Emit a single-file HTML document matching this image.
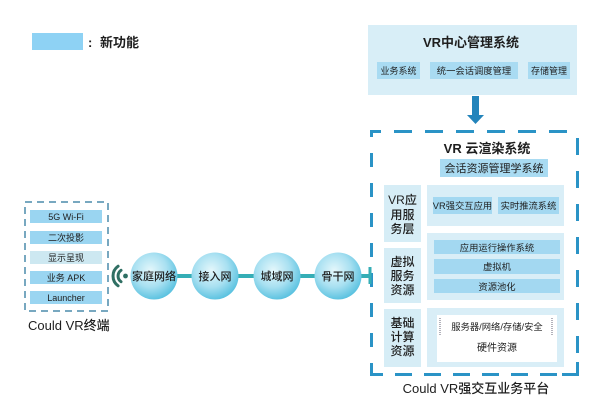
<!DOCTYPE html>
<html>
<head>
<meta charset="utf-8">
<style>
  html,body{margin:0;padding:0;background:#fff;}
  svg{display:block;}
  text{font-family:"Liberation Sans","Noto Sans CJK SC",sans-serif;fill:#1e1e1e;}
  .m{font-weight:500;}
</style>
</head>
<body>
<svg width="600" height="414" viewBox="0 0 600 414" xmlns="http://www.w3.org/2000/svg">
  <defs>
    <radialGradient id="cg" cx="42%" cy="38%" r="65%">
      <stop offset="0" stop-color="#e4f7fb"/>
      <stop offset="0.55" stop-color="#a8e0f1"/>
      <stop offset="1" stop-color="#56c0df"/>
    </radialGradient>
  </defs>
  <rect width="600" height="414" fill="#fff"/>

  <!-- legend -->
  <rect x="32" y="33" width="51" height="17" fill="#8ed2f4"/>
  <text x="88" y="47" font-size="13" font-weight="bold">:</text>
  <text x="100" y="47" font-size="13" font-weight="bold">新功能</text>

  <!-- top panel -->
  <rect x="368" y="25" width="209" height="70" fill="#d8eef7"/>
  <text x="471" y="47" font-size="13" font-weight="bold" text-anchor="middle">VR中心管理系统</text>
  <rect x="377" y="62" width="43" height="17" fill="#a9dbf2"/>
  <text x="398.5" y="74" font-size="9" text-anchor="middle">业务系统</text>
  <rect x="430" y="62" width="88" height="17" fill="#a9dbf2"/>
  <text x="474" y="74" font-size="9.3" text-anchor="middle">统一会话调度管理</text>
  <rect x="528" y="62" width="42" height="17" fill="#a9dbf2"/>
  <text x="549" y="74" font-size="9" text-anchor="middle">存储管理</text>

  <!-- arrow -->
  <rect x="472" y="96" width="7" height="20" fill="#2384bb"/>
  <polygon points="467,115 484,115 475.5,124" fill="#2384bb"/>

  <!-- big dashed box -->
  <g stroke="#2a93c6" stroke-width="3" fill="none">
    <line x1="371" y1="131.5" x2="568" y2="131.5" stroke-dasharray="18 13" stroke-dashoffset="8"/>
    <line x1="371.5" y1="130" x2="371.5" y2="376" stroke-dasharray="14 16" stroke-dashoffset="7"/>
    <line x1="371" y1="374.5" x2="560" y2="374.5" stroke-dasharray="17 12" stroke-dashoffset="5"/>
    <line x1="577.5" y1="138" x2="577.5" y2="356" stroke-dasharray="17 16"/>
    <polyline points="562,374.5 577.5,374.5 577.5,362"/>
  </g>

  <text x="487" y="153" font-size="13" font-weight="bold" text-anchor="middle">VR 云渲染系统</text>
  <rect x="440" y="159" width="108" height="18" fill="#a9dbf2"/>
  <text x="494" y="172" font-size="11" text-anchor="middle">会话资源管理学系统</text>

  <!-- left column -->
  <rect x="384" y="185" width="37" height="57" fill="#d6edf6"/>
  <rect x="384" y="248" width="37" height="55" fill="#d6edf6"/>
  <rect x="384" y="309" width="37" height="58" fill="#d6edf6"/>
  <g font-size="12" text-anchor="middle" class="m">
    <text x="402.5" y="204">VR应</text>
    <text x="402.5" y="219">用服</text>
    <text x="402.5" y="233">务层</text>
    <text x="402.5" y="266">虚拟</text>
    <text x="402.5" y="280">服务</text>
    <text x="402.5" y="294">资源</text>
    <text x="402.5" y="327">基础</text>
    <text x="402.5" y="341">计算</text>
    <text x="402.5" y="355">资源</text>
  </g>

  <!-- right blocks -->
  <rect x="427" y="185" width="137" height="41" fill="#d9eef7"/>
  <rect x="427" y="233" width="137" height="67" fill="#d9eef7"/>
  <rect x="427" y="308" width="137" height="59" fill="#d9eef7"/>

  <rect x="433" y="197" width="59" height="17" fill="#a3d8f1"/>
  <text x="462.5" y="209" font-size="9.3" text-anchor="middle">VR强交互应用</text>
  <rect x="498" y="197" width="61" height="17" fill="#a3d8f1"/>
  <text x="528.5" y="209" font-size="9.3" text-anchor="middle">实时推流系统</text>

  <rect x="434" y="240" width="126" height="14" fill="#a3d8f1"/>
  <text x="497" y="251" font-size="9.3" text-anchor="middle">应用运行操作系统</text>
  <rect x="434" y="259" width="126" height="15" fill="#a3d8f1"/>
  <text x="497" y="270" font-size="9.3" text-anchor="middle">虚拟机</text>
  <rect x="434" y="279" width="126" height="14" fill="#a3d8f1"/>
  <text x="497" y="290" font-size="9.3" text-anchor="middle">资源池化</text>

  <rect x="437" y="315" width="120" height="47" fill="#fff"/>
  <line x1="440" y1="318" x2="440" y2="335" stroke="#667" stroke-width="1" stroke-dasharray="1 1"/>
  <line x1="552" y1="318" x2="552" y2="335" stroke="#667" stroke-width="1" stroke-dasharray="1 1"/>
  <text x="497" y="330" font-size="9.3" text-anchor="middle">服务器/网络/存储/安全</text>
  <text x="497" y="351" font-size="10" text-anchor="middle">硬件资源</text>

  <text x="476" y="393" font-size="13" text-anchor="middle" class="m">Could VR强交互业务平台</text>

  <!-- terminal -->
  <rect x="25" y="202" width="83" height="109" fill="none" stroke="#4b8bab" stroke-width="1.5" stroke-dasharray="7 5"/>
  <rect x="30" y="210" width="72" height="13" fill="#9ad5f1"/>
  <text x="66" y="220" font-size="9" text-anchor="middle">5G Wi-Fi</text>
  <rect x="30" y="231" width="72" height="13" fill="#9ad5f1"/>
  <text x="66" y="241" font-size="9" text-anchor="middle">二次投影</text>
  <rect x="30" y="251" width="72" height="13" fill="#cde8f1"/>
  <text x="66" y="261" font-size="9" text-anchor="middle">显示呈现</text>
  <rect x="30" y="271" width="72" height="13" fill="#9ad5f1"/>
  <text x="66" y="281" font-size="9" text-anchor="middle">业务 APK</text>
  <rect x="30" y="291" width="72" height="13" fill="#9ad5f1"/>
  <text x="66" y="301" font-size="9" text-anchor="middle">Launcher</text>
  <text x="28" y="330" font-size="13" class="m">Could VR终端</text>

  <!-- wifi -->
  <g stroke="#2f6f63" stroke-width="3" fill="none" stroke-linecap="round">
    <path d="M118.1,266.2 A12,12 0 0,0 118.1,285.8"/>
    <path d="M121,270.3 A7,7 0 0,0 121,281.7"/>
  </g>
  <circle cx="125.5" cy="276" r="2.4" fill="#2f6f63"/>

  <!-- connectors -->
  <g stroke="#35aeb6" stroke-width="4">
    <line x1="176" y1="276" x2="194" y2="276"/>
    <line x1="237" y1="276" x2="256" y2="276"/>
    <line x1="298" y1="276" x2="317" y2="276"/>
    <line x1="360" y1="276" x2="371" y2="276"/>
  </g>
  <line x1="370" y1="267" x2="370" y2="284" stroke="#35aeb6" stroke-width="3"/>

  <!-- circles -->
  <circle cx="154" cy="276" r="23.5" fill="url(#cg)"/>
  <circle cx="215" cy="276" r="23.5" fill="url(#cg)"/>
  <circle cx="277" cy="276" r="23.5" fill="url(#cg)"/>
  <circle cx="338" cy="276" r="23.5" fill="url(#cg)"/>
  <g font-size="11" text-anchor="middle" class="m">
    <text x="154" y="280">家庭网络</text>
    <text x="215" y="280">接入网</text>
    <text x="277" y="280">城域网</text>
    <text x="338" y="280">骨干网</text>
  </g>
</svg>
</body>
</html>
